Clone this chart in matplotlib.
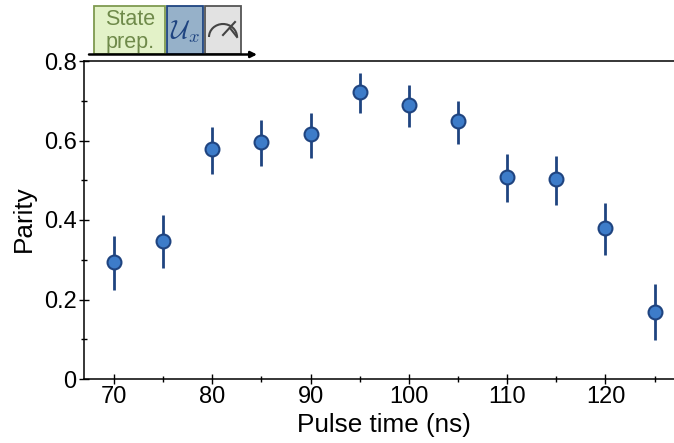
import matplotlib
matplotlib.use("Agg")
import matplotlib.pyplot as plt
from matplotlib.patches import Rectangle, Arc, FancyArrowPatch
from matplotlib.ticker import MultipleLocator

plt.rcParams['font.family'] = ['Liberation Sans', 'DejaVu Sans']
plt.rcParams['mathtext.fontset'] = 'cm'

pulse_time = [70, 75, 80, 85, 90, 95, 100, 105, 110, 115, 120, 125]
parity = [0.294, 0.347, 0.578, 0.597, 0.616, 0.723, 0.690, 0.650, 0.508, 0.502, 0.380, 0.168]
err_low = [0.224, 0.280, 0.515, 0.535, 0.555, 0.670, 0.635, 0.590, 0.445, 0.437, 0.312, 0.097]
err_high = [0.360, 0.412, 0.635, 0.652, 0.668, 0.770, 0.740, 0.700, 0.565, 0.560, 0.442, 0.238]

W, H = 674, 443
fig = plt.figure(figsize=(W / 100, H / 100), dpi=100)
L, R, T, B = 84, 674, 61, 379
ax = fig.add_axes([L / W, 1 - B / H, (R - L) / W, (B - T) / H])
ax.set_xlim(66.95, 126.97)
ax.set_ylim(0, 0.8)

lo = [p - e for p, e in zip(parity, err_low)]
hi = [e - p for p, e in zip(parity, err_high)]
ax.errorbar(pulse_time, parity, yerr=[lo, hi], fmt='o', ms=10, mfc='#3d7cc9', mec='#1f4480',
            mew=1.5, ecolor='#1f4480', elinewidth=2.0, capsize=0, clip_on=False, zorder=3)

ax.spines['right'].set_visible(False)
for s in ('left', 'bottom', 'top'):
    ax.spines[s].set_linewidth(1.1)
ax.xaxis.set_major_locator(MultipleLocator(10))
ax.xaxis.set_minor_locator(MultipleLocator(5))
ax.set_yticks([0, 0.2, 0.4, 0.6, 0.8])
ax.set_yticklabels(['0', '0.2', '0.4', '0.6', '0.8'])
ax.yaxis.set_minor_locator(MultipleLocator(0.1))
ax.tick_params(axis='x', which='major', direction='inout', length=6.5, width=1.0, labelsize=17, pad=2)
ax.tick_params(axis='x', which='minor', direction='inout', length=4.5, width=1.0)
ax.tick_params(axis='y', which='major', direction='inout', length=6.5, width=1.0, labelsize=17, pad=2)
ax.tick_params(axis='y', which='minor', direction='inout', length=4.5, width=1.0)
ax.set_xlabel('Pulse time (ns)', fontsize=18.8, va='center')
ax.xaxis.set_label_coords((384 - L) / (R - L), -(425 - B) / (B - T))
ax.set_ylabel('Parity', fontsize=18.8, va='center')
ax.yaxis.set_label_coords((24 - L) / (R - L), (B - 219) / (B - T))

# circuit schematic, in pixel coordinates
ov = fig.add_axes([0, 0, 1, 1], facecolor='none')
ov.set_xlim(0, W)
ov.set_ylim(H, 0)
ov.axis('off')
ov.add_patch(Rectangle((94, 6), 71, 48, fc='#e3f2c8', ec='#7f9a50', lw=1.3))
ov.add_patch(Rectangle((167, 6), 36, 48, fc='#96b1c9', ec='#1f4480', lw=1.3))
ov.add_patch(Rectangle((205, 6), 36, 48, fc='#e2e2e2', ec='#555555', lw=1.3))
ov.text(130, 31, 'State\nprep.', color='#6f8a4a', fontsize=15.5, ha='center', va='center', linespacing=1.15)
ov.text(185, 32, r'$\mathcal{U}_x$', color='#1f4480', fontsize=19, ha='center', va='center')
ov.add_patch(Arc((223, 37), 28, 26, theta1=180, theta2=360, ec='#444444', lw=1.5))
ov.plot([223, 235], [35, 22], color='#444444', lw=1.5)
ov.plot([230, 237], [28, 37], color='#444444', lw=1.5)
ov.add_patch(FancyArrowPatch((89, 54.5), (257, 54.5), arrowstyle='-|>', mutation_scale=9,
                             color='black', lw=1.8, shrinkA=0, shrinkB=0))

fig.savefig('out.png', dpi=100)
